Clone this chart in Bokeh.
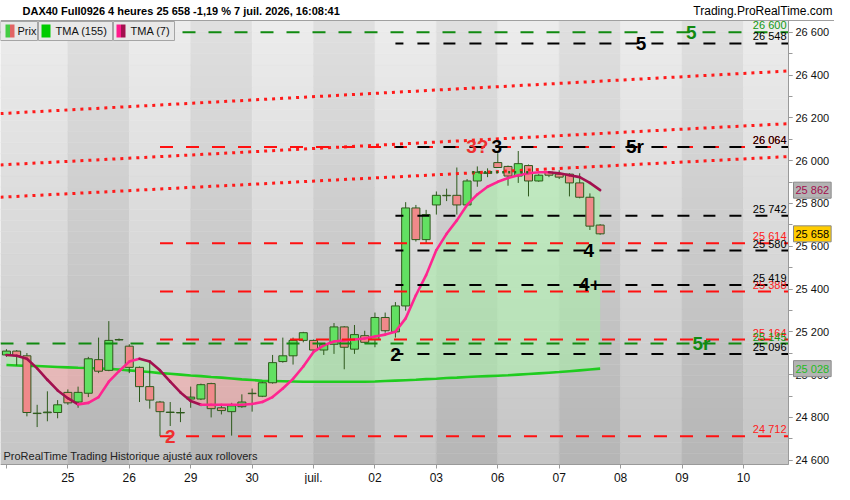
import numpy as np
from bokeh.plotting import figure
from bokeh.models import Range1d, FixedTicker, Label, BoxAnnotation, LinearAxis
from bokeh.core.properties import value
from bokeh.embed import file_html
from bokeh.resources import INLINE

FONT = "Liberation Sans"

# ---------------- data ----------------
title_text = "DAX40 Full0926 4 heures 25 658 -1,19 % 7 juil. 2026, 16:08:41"
site_text = "Trading.ProRealTime.com"
footer_text = "ProRealTime Trading  Historique ajusté aux rollovers"
legend_labels = ["Prix", "TMA (155)", "TMA (7)"]

day_labels = ["", "25", "26", "29", "30", "juil.", "02", "03", "06", "07", "08", "09", "10"]
bars_per_day = 6

opens = [25092, 25110, 25088, 24818, 24822, 24823, 24917, 24872, 24913, 25070,
         25020, 25164, 25133, 25034, 24944, 24872, 24823, 24823, 24886, 24886,
         24958, 24845, 24827, 24850, 24913, 24899, 24962, 25061, 25088, 25160,
         25160, 25115, 25142, 25223, 25119, 25182, 25164, 25267, 25200, 25321,
         25779, 25631, 25793, 25838, 25838, 25793, 25905, 25941, 25991, 25973,
         25928, 25977, 25905, 25946, 25937, 25937, 25896, 25829, 25699]
highs = [25119, 25115, 25101, 24859, 24922, 24881, 24931, 24944, 25083, 25173,
         25250, 25169, 25142, 25038, 25061, 24877, 24872, 24845, 24944, 24958,
         24962, 24854, 24868, 24908, 24935, 24967, 25092, 25173, 25173, 25200,
         25164, 25146, 25241, 25227, 25232, 25205, 25290, 25290, 25339, 25806,
         25793, 25770, 25856, 25869, 25968, 25914, 25973, 25964, 26035, 25977,
         26045, 25982, 25937, 25950, 25955, 25941, 25941, 25847, 25703]
lows = [25083, 25043, 24805, 24755, 24782, 24796, 24859, 24845, 24895, 25007,
        25016, 25158, 25007, 24872, 24841, 24712, 24760, 24778, 24845, 24881,
        24800, 24814, 24715, 24845, 24827, 24895, 24958, 25056, 25047, 25151,
        25110, 25092, 25097, 25025, 25097, 25146, 25128, 25196, 25173, 25299,
        25622, 25613, 25748, 25811, 25748, 25793, 25878, 25923, 25968, 25883,
        25896, 25833, 25901, 25923, 25914, 25833, 25824, 25676, 25654]
closes = [25110, 25088, 24823, 24820, 24825, 24859, 24868, 24917, 25074, 25016,
          25160, 25162, 25034, 24944, 24881, 24827, 24825, 24821, 24895, 24953,
          24841, 24832, 24854, 24872, 24911, 24962, 25056, 25088, 25160, 25196,
          25115, 25142, 25223, 25128, 25187, 25151, 25267, 25205, 25321, 25779,
          25631, 25748, 25838, 25836, 25793, 25905, 25946, 25943, 25968, 25928,
          25986, 25905, 25932, 25932, 25923, 25896, 25829, 25694, 25658]

tma7 = [25092, 25088, 25074, 25029, 24976, 24926, 24890, 24861, 24868, 24895,
        24967, 25016, 25061, 25074, 25061, 25020, 24967, 24917, 24877, 24859,
        24859, 24859, 24859, 24859, 24863, 24872, 24895, 24935, 24980, 25038,
        25106, 25137, 25155, 25160, 25164, 25169, 25178, 25187, 25200, 25263,
        25371, 25465, 25582, 25658, 25721, 25793, 25842, 25878, 25901, 25919,
        25932, 25941, 25946, 25946, 25941, 25932, 25923, 25896, 25862]
tma155 = [25045, 25043, 25041, 25040, 25038, 25036, 25034, 25032, 25031, 25029,
          25027, 25024, 25020, 25016, 25012, 25007, 25004, 25000, 24996, 24993,
          24989, 24986, 24982, 24978, 24975, 24971, 24970, 24969, 24968, 24967,
          24967, 24967, 24967, 24967, 24967, 24967, 24968, 24970, 24972, 24974,
          24976, 24979, 24981, 24984, 24986, 24989, 24991, 24993, 24995, 24997,
          25000, 25003, 25006, 25009, 25012, 25016, 25020, 25024, 25028]

green_levels = [26600, 25145]
black_levels = [26548, 26064, 25742, 25580, 25419, 25096]
red_levels = [26064, 25614, 25388, 25164, 24712]
red_start_bar = 15
black_start_bar = 38
dotted_levels = [25946]
dotted_start_bar = [45.5]
dotted_end_bar = [51]

trend_start = [26220, 25980, 25829]
trend_end = [26419, 26173, 26019]

tag_text = ["5", "5", "3?", "3", "5r", "4", "4+", "2", "5r", "2"]
tag_bar = [66.9, 62.0, 46.0, 47.9, 61.4, 56.9, 57.0, 38.0, 67.9, 16.0]
tag_price = [26600, 26548, 26064, 26064, 26064, 25580, 25419, 25096, 25145, 24712]
tag_kind = ["g", "k", "r", "k", "k", "k", "k", "k", "g", "r"]

axis_ticks = list(range(24600, 26601, 200))
axis_minor = list(range(24600, 26601, 100))

# ---------------- styles / layout ----------------
GREEN_LVL = "#118a11"
RED_LVL = "#ff1010"
BLACK_LVL = "#000000"
KIND_COLOR = {"g": GREEN_LVL, "k": BLACK_LVL, "r": "#ee3030"}
UP_FILL = "#62e062"
DN_FILL = "#f0898a"
EDGE = "#2e5a1c"
AXIS_GRAY = "#9a9a9a"

W, H = 834, 484                 # canvas == frame (no borders)
CHART_W, CHART_TOP, CHART_BOTTOM = 788, 20, 464   # chart area inside the canvas (px)

X_START, X_END = -0.58, 76.4    # chart x extent (bar index)
Y_START, Y_END = 24580, 26655   # chart price extent
XPP = (X_END - X_START) / CHART_W
YPP = (Y_END - Y_START) / (CHART_BOTTOM - CHART_TOP)
FX_END = X_START + W * XPP
FY_START = Y_START - (H - CHART_BOTTOM) * YPP
FY_END = Y_END + CHART_TOP * YPP


def fmt(v):
    v = int(round(v))
    return f"{v // 1000} {v % 1000:03d}"


def xpx(px):
    return X_START + px * XPP


def ypx(py):
    return Y_END - (py - CHART_TOP) * YPP


p = figure(width=W, height=H, x_range=Range1d(X_START, FX_END), y_range=Range1d(FY_START, FY_END),
           x_axis_location=None, y_axis_location=None, output_backend="svg", toolbar_location=None,
           min_border_left=0, min_border_right=0, min_border_top=0, min_border_bottom=0)
p.grid.visible = False
p.outline_line_color = None
p.border_fill_color = "white"
p.background_fill_color = "white"

# ---------- chart background: vertical gradient with alternating day bands ----------
n_days = len(day_labels)
edges = [X_START] + [bars_per_day * k for k in range(1, n_days)] + [X_END]
rows = 40
ys = np.linspace(Y_START, Y_END, rows + 1)
ql, qr, qb, qt, qc = [], [], [], [], []
for j in range(len(edges) - 1):
    light = (j % 2 == 0)
    top_c = 237 if light else 224
    bot_c = 196 if light else 181
    for r in range(rows):
        t = (r + 0.5) / rows
        c = int(round(bot_c + (top_c - bot_c) * t))
        ql.append(edges[j]); qr.append(edges[j + 1])
        qb.append(ys[r]); qt.append(ys[r + 1])
        qc.append("#%02x%02x%02x" % (c, c, c))
p.quad(left=ql, right=qr, bottom=qb, top=qt, fill_color=qc, line_color=qc, line_width=0.5)

# ---------- fill between TMA(7) and TMA(155) ----------
n = len(closes)
xi = np.arange(n, dtype=float)
a = np.array(tma7, dtype=float)
b = np.array(tma155, dtype=float)
fx, fa, fb = [xi[0]], [a[0]], [b[0]]
for i in range(1, n):
    d0 = a[i - 1] - b[i - 1]
    d1 = a[i] - b[i]
    if d0 * d1 < 0:
        t = d0 / (d0 - d1)
        yc = b[i - 1] + t * (b[i] - b[i - 1])
        fx.append(xi[i - 1] + t); fa.append(yc); fb.append(yc)
    fx.append(xi[i]); fa.append(a[i]); fb.append(b[i])
fx = np.array(fx); fa = np.array(fa); fb = np.array(fb)
p.varea(x=fx, y1=fb, y2=np.maximum(fa, fb), fill_color="#a6f0a6", fill_alpha=0.55)
p.varea(x=fx, y1=np.minimum(fa, fb), y2=fb, fill_color="#ffa3a3", fill_alpha=0.5)

# ---------- TMA 155 ----------
p.line(xi, b, line_color="#1fcc1f", line_width=2.6)

# ---------- candles ----------
o = np.array(opens, float); c = np.array(closes, float)
up = c >= o
p.segment(x0=xi, y0=lows, x1=xi, y1=highs, line_color=EDGE, line_width=1)
p.vbar(x=xi, width=0.78, top=np.maximum(o, c), bottom=np.minimum(o, c),
       fill_color=[UP_FILL if u else DN_FILL for u in up], line_color=EDGE, line_width=1)

# ---------- TMA 7 (colored by slope) ----------
seg_col = ["#a3104f" if a[i + 1] < a[i] else "#ff2590" for i in range(n - 1)]
p.segment(x0=xi[:-1], y0=a[:-1], x1=xi[1:], y1=a[1:], line_color=seg_col, line_width=2.6,
          line_cap="round")

# ---------- dotted trend channel ----------
p.segment(x0=[X_START] * len(trend_start), y0=trend_start, x1=[X_END] * len(trend_end), y1=trend_end,
          line_color="#ff1a1a", line_width=3, line_dash="3 5")

# ---------- horizontal levels ----------
p.segment(x0=[red_start_bar] * len(red_levels), y0=red_levels, x1=[X_END] * len(red_levels),
          y1=red_levels, line_color=RED_LVL, line_width=2, line_dash="13 13")
p.segment(x0=[black_start_bar] * len(black_levels), y0=black_levels, x1=[X_END] * len(black_levels),
          y1=black_levels, line_color=BLACK_LVL, line_width=2, line_dash="12 14", line_dash_offset=4)
p.segment(x0=[X_START] * len(green_levels), y0=green_levels, x1=[X_END] * len(green_levels),
          y1=green_levels, line_color=GREEN_LVL, line_width=2, line_dash="13 13")
p.segment(x0=dotted_start_bar, y0=dotted_levels, x1=dotted_end_bar, y1=dotted_levels,
          line_color="#1e6e1e", line_width=2.5, line_dash="2 4")

for lv, col in ((red_levels, "#ff2020"), (black_levels, "#000000"), (green_levels, "#119911")):
    p.text(x=[X_END] * len(lv), y=lv, text=[fmt(v) for v in lv], text_align="right",
           text_baseline="bottom", x_offset=-2, y_offset=-1, text_color=col,
           text_font=value(FONT), text_font_size="11px")

p.text(x=tag_bar, y=tag_price, text=tag_text, text_color=[KIND_COLOR[k] for k in tag_kind],
       text_align="center", text_baseline="middle", text_font=value(FONT),
       text_font_size="19px", text_font_style="bold")

# title-bar bottom rule
p.segment(x0=[X_START], y0=[Y_END], x1=[FX_END], y1=[Y_END], line_color="#a0a0a0", line_width=1)

# ---------- axes (zero-size, pinned to the chart edges) ----------
xt = [bars_per_day * k for k in range(n_days)]
xaxis = LinearAxis(fixed_location=Y_START, bounds=(X_START, X_END),
                   ticker=FixedTicker(ticks=xt, minor_ticks=[]),
                   major_label_overrides={t: lab for t, lab in zip(xt, day_labels)},
                   major_tick_out=4, major_tick_in=0, minor_tick_out=0, major_label_standoff=2,
                   axis_line_color=AXIS_GRAY, major_tick_line_color=AXIS_GRAY,
                   major_label_text_font=FONT, major_label_text_font_size="12px",
                   major_label_text_color="#111111")
p.add_layout(xaxis, "below")

yaxis = LinearAxis(fixed_location=X_END, bounds=(Y_START, Y_END),
                   ticker=FixedTicker(ticks=axis_ticks, minor_ticks=axis_minor),
                   major_label_overrides={t: fmt(t) for t in axis_ticks},
                   major_tick_out=4, major_tick_in=0, minor_tick_out=4, minor_tick_in=0,
                   major_label_standoff=3,
                   axis_line_color=AXIS_GRAY, major_tick_line_color=AXIS_GRAY,
                   minor_tick_line_color=AXIS_GRAY,
                   major_label_text_font=FONT, major_label_text_font_size="11px",
                   major_label_text_color="#111111")
p.add_layout(yaxis, "right")

# right-axis value boxes
for val, bg, fg in ((tma7[-1], "#b3b3b3", "#a3104f"), (closes[-1], "#ffcc00", "#000000"),
                    (tma155[-1], "#b3b3b3", "#1fbb1f")):
    p.add_layout(Label(x=X_END, y=val, x_offset=5, text=fmt(val), text_baseline="middle",
                       text_font=FONT, text_font_size="11px", text_color=fg,
                       background_fill_color=bg, background_fill_alpha=1,
                       border_line_color="#8a8a8a", padding=2))

# ---------- legend boxes ----------
leg_boxes = [(0, 37), (38, 112), (113, 174)]
for (l, r), lab in zip(leg_boxes, legend_labels):
    p.add_layout(BoxAnnotation(left=xpx(l), right=xpx(r), top=ypx(21), bottom=ypx(40),
                               fill_color="#e8e8e8", fill_alpha=1, line_color="#a5a5a5",
                               line_alpha=1, line_width=1))
icons = [(5, 9.5, "#43cc43"), (9.5, 14, "#e26464"), (41, 50, "#00cc00"),
         (116, 120.5, "#ff1a8c"), (120.5, 125, "#a3104f")]
for l, r, col in icons:
    p.add_layout(BoxAnnotation(left=xpx(l), right=xpx(r), top=ypx(24), bottom=ypx(37),
                               fill_color=col, fill_alpha=1, line_alpha=0))
for (l, r), lab in zip(leg_boxes, legend_labels):
    p.add_layout(Label(x=xpx(l + 17), y=ypx(30.5), text=lab, text_baseline="middle",
                       text_font=FONT, text_font_size="11px", text_color="#111111"))

# ---------- title bar ----------
p.add_layout(Label(x=X_START, y=Y_END, x_offset=22, y_offset=10, text=title_text,
                   text_baseline="middle", text_font=FONT, text_font_size="11px",
                   text_font_style="bold", text_color="#000000"))
p.add_layout(Label(x=FX_END, y=Y_END, x_offset=-2, y_offset=10, text=site_text,
                   text_align="right", text_baseline="middle", text_font=FONT,
                   text_font_size="12px", text_color="#000000"))

# ---------- footer ----------
p.add_layout(Label(x=X_START, y=Y_START, x_offset=3, y_offset=3, text=footer_text,
                   text_baseline="bottom", text_font=FONT, text_font_size="11px",
                   text_color="#222222"))

open("out.html", "w").write(file_html(p, INLINE))
